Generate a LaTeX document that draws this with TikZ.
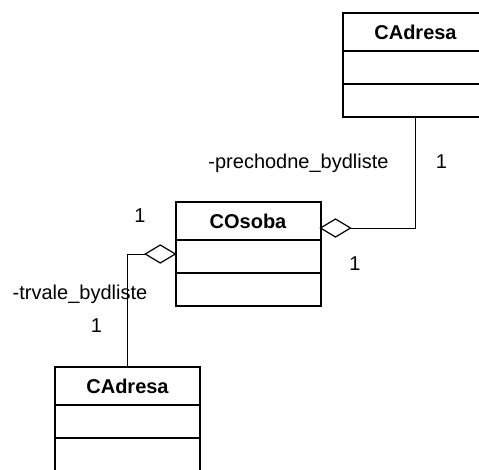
\documentclass[tikz,border=0pt]{standalone}
\usepackage{fontspec}
\setmainfont{Liberation Sans}
\usetikzlibrary{shapes.geometric, positioning, fit}

\begin{document}
\begin{tikzpicture}[
  x=1pt, y=-1pt,
  font=\fontsize{20}{24}\selectfont,
  head/.style={rectangle, draw=black, line width=2pt, outer sep=0pt,
               minimum width=145pt, minimum height=38pt, inner sep=0pt,
               font=\fontsize{20}{24}\selectfont\bfseries},
  part/.style={rectangle, draw=black, line width=2pt, outer sep=0pt,
               minimum width=145pt, minimum height=33pt, inner sep=0pt},
  agg/.style={diamond, draw=black, fill=white, line width=1.2pt,
              minimum width=30pt, minimum height=18pt,
              inner sep=0pt, outer sep=0pt},
  conn/.style={draw=black, line width=1pt},
  lbl/.style={anchor=base, inner sep=0pt},
]

\useasboundingbox (0,0) rectangle (479,469);
\clip (0,0) rectangle (479,469);

% Class COsoba
\node[head]                   (osobaT) at (248,221) {COsoba};
\node[part, below=0pt of osobaT] (osobaA) {};
\node[part, below=0pt of osobaA] (osobaO) {};
\node[fit=(osobaT)(osobaO), inner sep=0pt] (osoba) {};

% Class CAdresa (upper)
\node[head]                   (adrUT) at (415.5,32) {CAdresa};
\node[part, below=0pt of adrUT] (adrUA) {};
\node[part, below=0pt of adrUA] (adrUO) {};

% Class CAdresa (lower)
\node[head]                   (adrLT) at (127.5,386) {CAdresa};
\node[part, below=0pt of adrLT] (adrLA) {};
\node[part, below=0pt of adrLA] (adrLO) {};

% Aggregation diamonds on COsoba
\node[agg, anchor=west] (aggPrech) at ([yshift=-7pt]osobaT.east) {};
\node[agg, anchor=east] (aggTrv)   at (osoba.west) {};

% Associations
\draw[conn] (adrUO.south) |- (aggPrech.east);
\draw[conn] (aggTrv.west) -| (adrLT.north);

% Roles and multiplicities
\node[lbl] (rolPrech) at (298.5,168) {-prechodne\_bydliste};
\node[lbl] (mulPrechA) at (441.5,168) {1};
\node[lbl] (mulPrechO) at (355,270) {1};
\node[lbl] (mulTrvO)   at (140,222) {1};
\node[lbl] (rolTrv)    at (80,299) {-trvale\_bydliste};
\node[lbl] (mulTrvA)   at (96.5,332) {1};

\end{tikzpicture}
\end{document}
